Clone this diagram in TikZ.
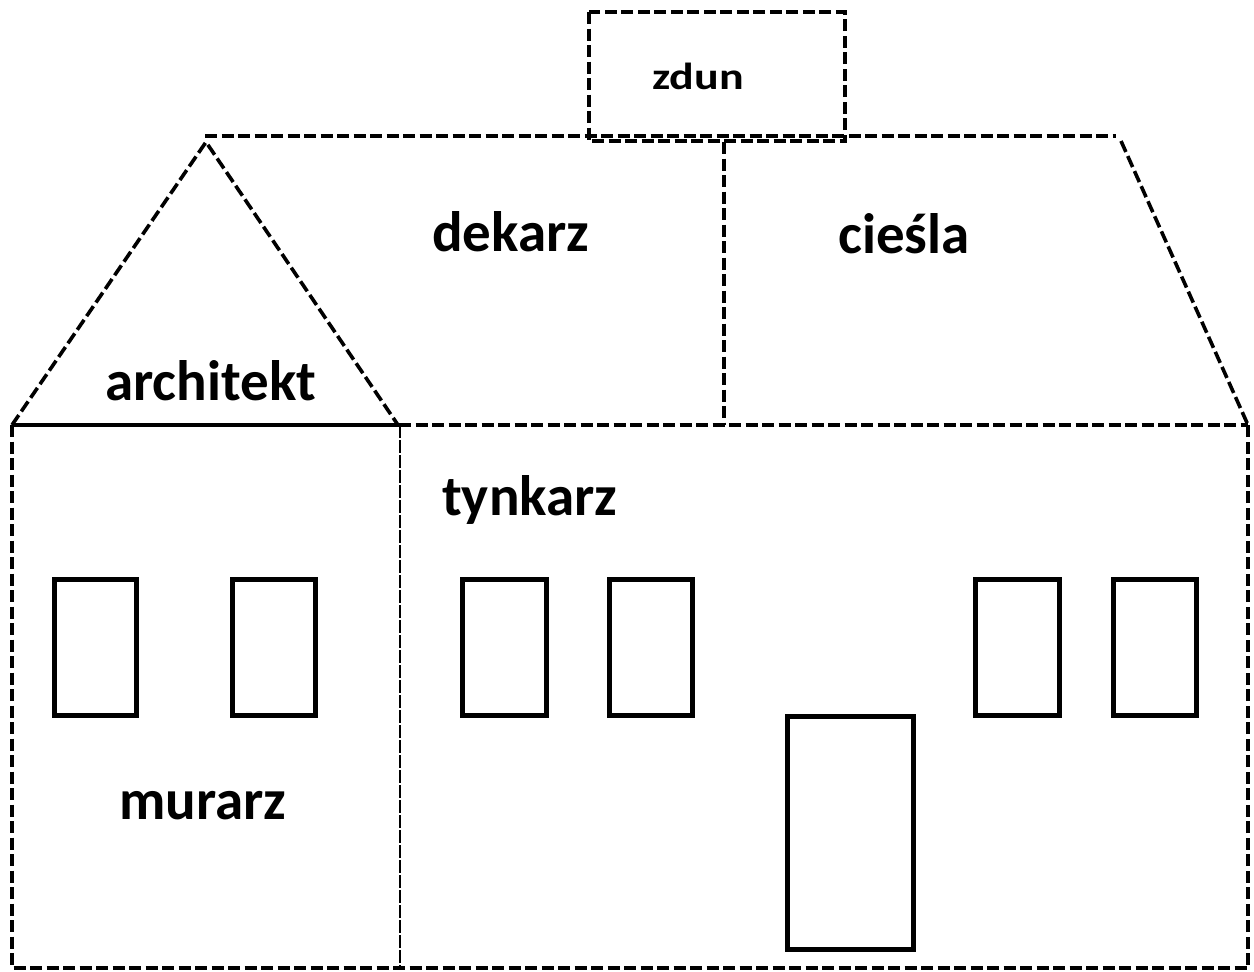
\documentclass[tikz,border=0pt]{standalone}
\usepackage{fontspec}
\setmainfont{Carlito}
\begin{document}
\begin{tikzpicture}[x=1pt,y=-1pt,
  cutline/.style={line width=3.6pt, dash pattern=on 12pt off 4.5pt},
  fineline/.style={line width=2.8pt, dash pattern=on 13pt off 2pt},
  winbox/.style={line width=5pt},
  lbl/.style={font=\fontsize{57}{60}\selectfont\bfseries, anchor=base west, inner sep=0pt},
  smalllbl/.style={font=\fontsize{46}{50}\selectfont\bfseries, anchor=base west, inner sep=0pt, yscale=0.82}]
\useasboundingbox (0,0) rectangle (1254,972);
% chimney
\draw[cutline] (589,12) rectangle (845,141);
% roof top line
\draw[cutline] (205,136) -- (1116,136);
% right roof slope
\draw[cutline] (1121,141) -- (1248,425);
% gable
\draw[cutline] (12,425) -- (206,142) -- (398,425);
% roof divider
\draw[cutline] (724,142) -- (724,425);
% gable base (solid)
\draw[line width=3.6pt] (12,425) -- (399,425);
% main wall top
\draw[cutline] (399,425) -- (1248,425);
% walls
\draw[cutline] (12,425) -- (12,968) -- (1248,968) -- (1248,425);
\draw[fineline] (400,425) -- (400,968);
% windows
\draw[winbox] (54.5,579.5) rectangle (136.5,715.5);
\draw[winbox] (232.5,579.5) rectangle (315.5,715.5);
\draw[winbox] (462.5,579.5) rectangle (546.5,715.5);
\draw[winbox] (609.5,579.5) rectangle (692.5,715.5);
\draw[winbox] (975.5,579.5) rectangle (1059.5,715.5);
\draw[winbox] (1113.5,579.5) rectangle (1196.5,715.5);
% door
\draw[winbox] (787.5,716.5) rectangle (913.5,949.5);
% labels
\node[smalllbl] (zdun) at (652,89) {zdun};
\node[lbl] (dekarz) at (432,251) {dekarz};
\node[lbl] (ciesla) at (838,253) {cieśla};
\node[lbl] (architekt) at (105,400) {architekt};
\node[lbl] (tynkarz) at (442,515) {tynkarz};
\node[lbl] (murarz) at (119,819) {murarz};
\end{tikzpicture}
\end{document}
